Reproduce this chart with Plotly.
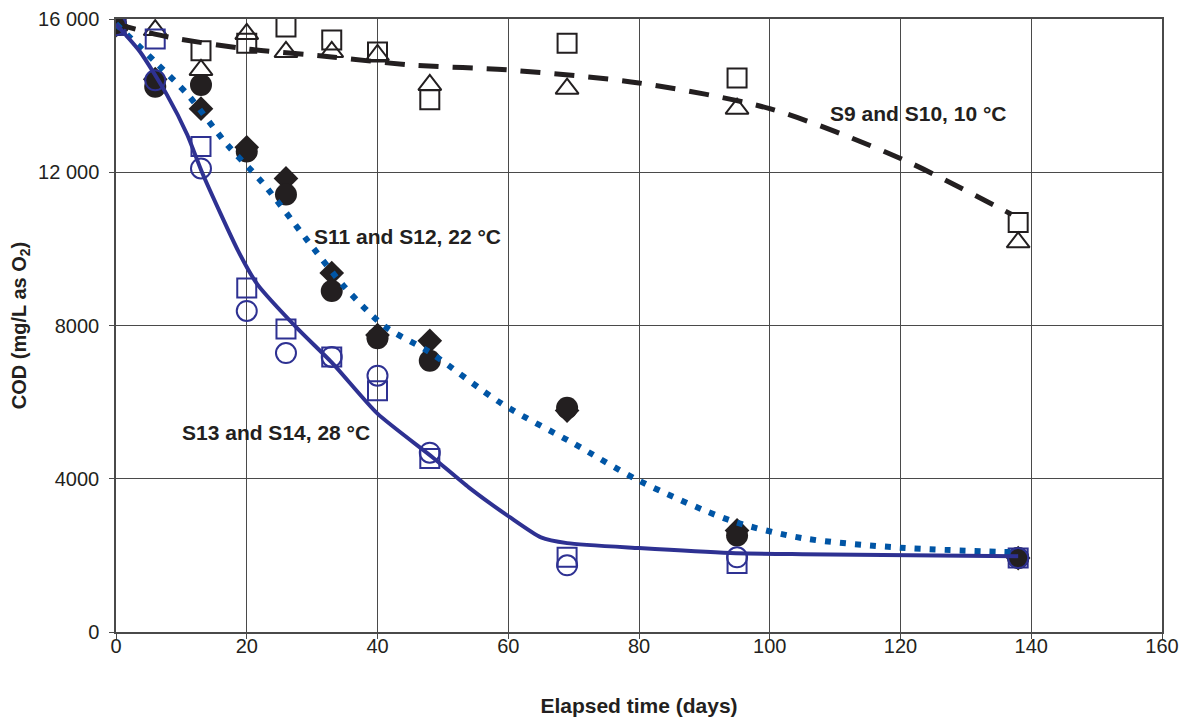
import plotly.graph_objects as go

# ---- data ----
days = [0, 6, 13, 20, 26, 33, 40, 48, 69, 95, 138]

s9_sq = [15840, None, 15170, 15370, 15790, 15450, 15140, 13890, 15370, 14460, 10690]
s10_tri = [15840, 15710, 14670, 15610, 15140, 15140, 15060, 14280, 14180, 13660, 10170]

s11_circ = [15840, 14230, 14280, 12540, 11420, 8900, 7670, 7080, 5850, 2520, 1930]
s12_diam = [15840, 14430, 13660, 12650, 11840, 9370, 7750, 7600, 5780, 2650, 1930]

s13_sq = [15840, 15480, 12670, 8980, 7910, 7180, 6300, 4530, 1950, 1790, 1930]
s14_circ = [15840, 14400, 12100, 8380, 7280, 7180, 6690, 4680, 1740, 1950, 1930]

fit10_x = [0, 8, 20, 33, 45, 60, 80, 100, 120, 137]
fit10_y = [15870, 15530, 15220, 15010, 14800, 14670, 14330, 13660, 12360, 10900]

fit22_x = [0, 6, 11, 17, 22.5, 29, 35, 41, 48, 59, 70, 80, 94, 105, 120, 138]
fit22_y = [15870, 14880, 14020, 12720, 11710, 10280, 9000, 7990, 7300, 5960, 4920, 3950, 2910, 2450, 2200, 2080]

fit28_x = [0, 3.7, 7.8, 10.9, 13.3, 18.7, 21.6, 27.7, 33.2, 40, 48.5, 54, 60.3, 65, 69, 80, 94, 105, 138]
fit28_y = [15870, 15140, 14020, 12980, 11940, 9940, 9080, 7930, 7000, 5700, 4550, 3770, 2990, 2470, 2320, 2190, 2060, 2030, 1980]

x_ticks = [0, 20, 40, 60, 80, 100, 120, 140, 160]
y_ticks = [0, 4000, 8000, 12000, 16000]
y_tick_text = ["0", "4000", "8000", "12 000", "16 000"]

labels = ["S9 and S10, 10 °C", "S11 and S12, 22 °C", "S13 and S14, 28 °C"]

BLACK = "#231f20"
NAVY = "#2e3192"
BLUE = "#0055a5"
GRID = "#4a4a4a"
FONT = "Liberation Sans, Arial, sans-serif"

fig = go.Figure()

def mk(y, symbol, color, size, lw=2):
    fig.add_trace(go.Scatter(
        x=days, y=y, mode="markers",
        marker=dict(symbol=symbol, size=size, color=color,
                    line=dict(color=color, width=lw)),
        showlegend=False, hoverinfo="x+y"))

mk(s9_sq, "square-open", BLACK, 19, 2)
mk(s10_tri, "triangle-up-open", BLACK, 20, 2)
mk(s13_sq, "square-open", NAVY, 19, 2)
mk(s12_diam, "diamond", BLACK, 19, 0)
mk(s11_circ, "circle", BLACK, 22, 0)
mk(s14_circ, "circle-open", NAVY, 20, 2)

fig.add_trace(go.Scatter(x=fit10_x, y=fit10_y, mode="lines",
                         line=dict(color=BLACK, width=5, dash="20px,14px",
                                   shape="spline", smoothing=0.8),
                         showlegend=False, hoverinfo="skip"))
fig.add_trace(go.Scatter(x=fit22_x, y=fit22_y, mode="lines",
                         line=dict(color=BLUE, width=6, dash="6px,9px",
                                   shape="spline", smoothing=0.8),
                         showlegend=False, hoverinfo="skip"))
fig.add_trace(go.Scatter(x=fit28_x, y=fit28_y, mode="lines",
                         line=dict(color=NAVY, width=4,
                                   shape="spline", smoothing=0.6),
                         showlegend=False, hoverinfo="skip"))

ann_pos = [(108.9, 13530), (30.0, 10330), (9.8, 5200)]
for (ax, ay), t in zip(ann_pos, labels):
    fig.add_annotation(x=ax, y=ay, text="<b>" + t + "</b>", showarrow=False,
                       xanchor="left", yanchor="middle",
                       font=dict(family=FONT, size=21, color=BLACK))

tick_font = dict(family=FONT, size=20, color=BLACK)

fig.update_layout(
    width=1187, height=721,
    margin=dict(l=108, r=33, t=11, b=97, pad=0),
    paper_bgcolor="white", plot_bgcolor="white",
    xaxis=dict(range=[0, 160], tickvals=x_ticks, ticks="outside", ticklen=5,
               tickcolor=GRID, showgrid=True, gridcolor=GRID, gridwidth=1,
               showline=True, linecolor=GRID, linewidth=1.5, mirror=True,
               zeroline=False, tickfont=tick_font, automargin=False,
               ticklabelstandoff=-10, ticklabeloverflow="allow",
               title=dict(text="<b>Elapsed time (days)</b>",
                          font=dict(family=FONT, size=21, color=BLACK), standoff=43)),
    yaxis=dict(range=[0, 16000], tickvals=y_ticks, ticktext=y_tick_text,
               ticks="outside", ticklen=5, tickcolor=GRID,
               showgrid=True, gridcolor=GRID, gridwidth=1,
               showline=True, linecolor=GRID, linewidth=1.5, mirror=True,
               zeroline=False, tickfont=tick_font, automargin=False,
               ticklabelstandoff=6, ticklabeloverflow="allow",
               title=dict(text="<b>COD (mg/L as O<sub>2</sub>)</b>",
                          font=dict(family=FONT, size=20, color=BLACK), standoff=12)),
)

fig.write_html("out.html")
